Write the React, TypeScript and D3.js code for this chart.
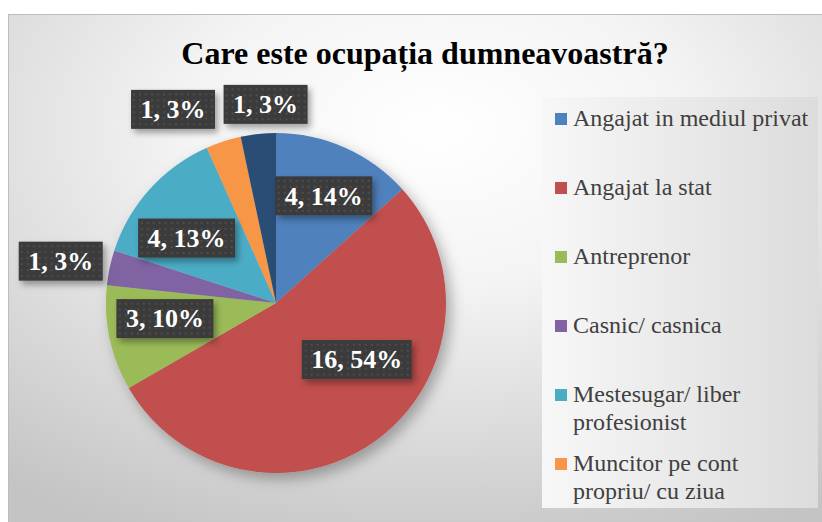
import React from "react";
import { pie, arc, PieArcDatum } from "d3";

const categories = [
  "Angajat in mediul privat",
  "Angajat la stat",
  "Antreprenor",
  "Casnic/ casnica",
  "Mestesugar/ liber profesionist",
  "Muncitor pe cont propriu/ cu ziua",
  "Alta ocupatie"
];
const values = [4, 16, 3, 1, 4, 1, 1];
const percentLabels = ["14%", "54%", "10%", "3%", "13%", "3%", "3%"];
const colors = ["#4f81bd", "#c0504d", "#9bbb59", "#8064a2", "#4bacc6", "#f79646", "#2c4d75"];

// legend lines as they wrap in the picture
const legendLines = [
  ["Angajat in mediul privat"],
  ["Angajat la stat"],
  ["Antreprenor"],
  ["Casnic/ casnica"],
  ["Mestesugar/ liber", "profesionist"],
  ["Muncitor pe cont", "propriu/ cu ziua"],
  ["Alta ocupatie"]
];

// label placement (radius factor, angle shift in degrees), Excel "best fit"
const labelPlace: [number, number][] = [
  [0.69, 0],
  [0.58, -19],
  [0.66, 4],
  [1.29, -1],
  [0.65, -6],
  [1.29, -10],
  [1.17, 3]
];

const W = 822;
const H = 522;
const cx = 276;
const cy = 303;
const R = 170;

const legendBox = { x: 542, y: 97, w: 276, h: 411 };
const serif = { fontFamily: "Liberation Serif" };

export default function App() {
  const data = categories.map((c, i) => ({ key: c, value: values[i], i }));
  const arcs = pie<{ key: string; value: number; i: number }>()
    .value((d) => d.value)
    .sort(null)(data);
  const arcGen = arc<PieArcDatum<{ key: string; value: number; i: number }>>()
    .innerRadius(0)
    .outerRadius(R);

  // legend entries that fit in the box (the last one is clipped in the reference)
  const legendItems = legendLines
    .map((lines, i) => ({ lines, i, y0: 126 + i * 69 }))
    .filter((d) => d.y0 + (d.lines.length - 1) * 28 < legendBox.y + legendBox.h);

  return (
    <svg width={W} height={H} style={{ position: "absolute", left: 0, top: 0 }}>
      <defs>
        <radialGradient id="bg" cx="0.52" cy="0.22" r="0.85" fx="0.52" fy="0.22">
          <stop offset="0" stopColor="#ffffff" />
          <stop offset="0.35" stopColor="#f4f4f4" />
          <stop offset="1" stopColor="#c4c4c4" />
        </radialGradient>
        <linearGradient id="lg" x1="0" x2="1" y1="0" y2="0">
          <stop offset="0" stopColor="#f7f7f7" />
          <stop offset="1" stopColor="#dcdcdc" />
        </linearGradient>
        <pattern id="dots" width="6" height="6" patternUnits="userSpaceOnUse">
          <rect width="6" height="6" fill="#3b3b3b" />
          <circle cx="3" cy="3" r="0.9" fill="#555555" />
        </pattern>
        <filter id="pieShadow" x="-20%" y="-20%" width="150%" height="150%">
          <feDropShadow dx="5" dy="6" stdDeviation="7" floodColor="#000" floodOpacity="0.3" />
        </filter>
        <filter id="boxShadow" x="-20%" y="-30%" width="150%" height="170%">
          <feDropShadow dx="3" dy="4" stdDeviation="3" floodColor="#000" floodOpacity="0.35" />
        </filter>
      </defs>

      {/* chart area */}
      <rect x={0} y={0} width={W} height={H} fill="#fff" />
      <rect x={8.5} y={14.5} width={W} height={H} fill="url(#bg)" stroke="#bdbdbd" />

      {/* title */}
      <text
        x={425}
        y={64}
        textAnchor="middle"
        fontSize={32}
        fontWeight="bold"
        fill="#000"
        style={serif}
      >
        Care este ocupația dumneavoastră?
      </text>

      {/* pie */}
      <g transform={`translate(${cx},${cy})`}>
        <g filter="url(#pieShadow)">
          {arcs.map((a) => (
            <path key={a.data.key} d={arcGen(a) ?? ""} fill={colors[a.data.i]} />
          ))}
        </g>
        {arcs.map((a) => {
          const [k, shift] = labelPlace[a.data.i];
          const mid = (a.startAngle + a.endAngle) / 2 + (shift * Math.PI) / 180;
          const x = Math.sin(mid) * R * k;
          const y = -Math.cos(mid) * R * k;
          const txt = `${a.data.value}, ${percentLabels[a.data.i]}`;
          const bw = txt.length * 13 + 19;
          const bh = 39;
          return (
            <g key={a.data.key} transform={`translate(${x},${y})`}>
              <rect
                x={-bw / 2}
                y={-bh / 2}
                width={bw}
                height={bh}
                fill="url(#dots)"
                filter="url(#boxShadow)"
              />
              <text
                textAnchor="middle"
                dy="0.34em"
                fontSize={26}
                fontWeight="bold"
                fill="#fff"
                style={serif}
              >
                {txt}
              </text>
            </g>
          );
        })}
      </g>

      {/* legend */}
      <rect x={legendBox.x} y={legendBox.y} width={legendBox.w} height={legendBox.h} fill="url(#lg)" />
      {legendItems.map(({ lines, i, y0 }) => (
        <g key={i}>
          <rect x={555} y={y0 - 13} width={12} height={12} fill={colors[i]} />
          {lines.map((ln, j) => (
            <text key={j} x={573} y={y0 + j * 28} fontSize={24} fill="#404040" style={serif}>
              {ln}
            </text>
          ))}
        </g>
      ))}
    </svg>
  );
}
